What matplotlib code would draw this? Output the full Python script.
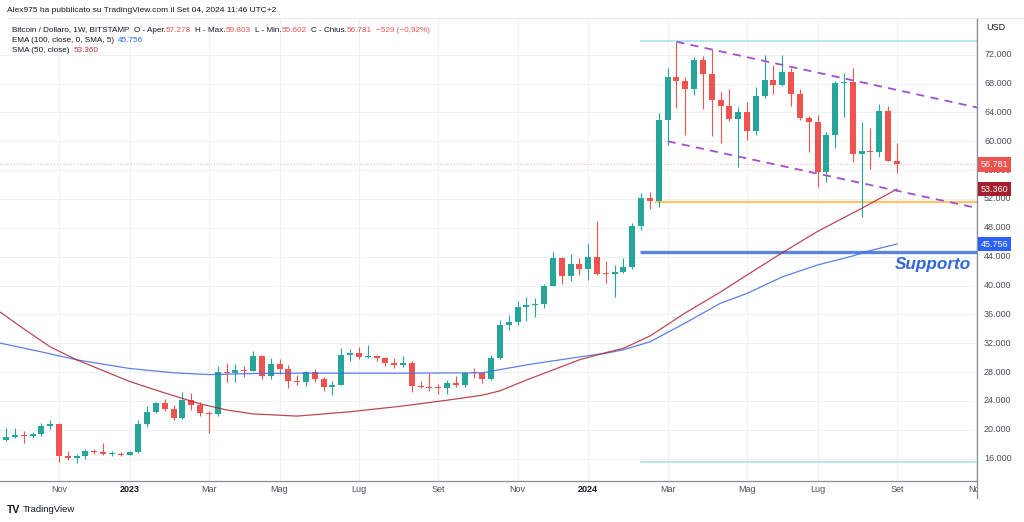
import matplotlib
matplotlib.use('Agg')
import matplotlib.pyplot as plt
from matplotlib.transforms import Bbox, TransformedBbox
from matplotlib.lines import Line2D
import numpy as np

plt.rcParams['font.family'] = ['Liberation Sans', 'DejaVu Sans']

# ---------------- data (prices in thousand USD, weekly bars from 26 Sep 2022) ----------------
weeks = list(range(102))
opens = [18.65, 18.95, 19.3, 19.1, 19.4, 20.5, 20.8, 16.3, 16.15, 16.3,
         17.0, 16.9, 16.6, 16.65, 16.5, 16.9, 20.8, 22.5, 23.7, 22.9,
         21.7, 24.1, 23.4, 22.3, 22.15, 28.0, 27.85, 28.3, 28.2, 30.2,
         27.4, 29.15, 28.4, 26.8, 26.65, 27.95, 27.05, 25.9, 26.2, 30.4,
         30.6, 30.15, 30.25, 30.0, 29.2, 29.0, 29.25, 26.1, 26.0, 25.8,
         25.75, 26.45, 26.2, 27.9, 27.85, 27.0, 29.95, 34.5, 35.0, 37.05,
         37.35, 37.45, 39.95, 43.8, 41.3, 42.95, 42.25, 43.9, 41.6, 41.55,
         41.9, 42.5, 48.3, 52.1, 51.7, 63.0, 68.95, 68.35, 67.2, 71.3,
         69.3, 65.7, 64.9, 63.1, 64.0, 61.4, 66.3, 68.5, 67.8, 69.65,
         66.6, 63.2, 62.7, 55.8, 60.8, 68.1, 68.25, 58.2, 58.7, 58.5,
         64.2, 57.278]
highs = [20.2, 20.2, 19.9, 19.7, 21.0, 21.4, 21.0, 17.1, 16.7, 17.3,
         17.4, 18.2, 17.0, 16.95, 17.1, 21.3, 23.3, 23.9, 24.2, 23.4,
         25.2, 25.1, 23.9, 22.6, 28.8, 29.2, 29.1, 28.8, 30.9, 30.4,
         30.0, 29.8, 29.0, 27.6, 28.2, 28.4, 27.35, 26.8, 31.4, 31.2,
         31.5, 31.8, 30.4, 30.1, 30.0, 30.2, 29.6, 26.8, 27.9, 26.4,
         26.9, 27.4, 28.0, 28.6, 28.0, 30.3, 35.2, 35.9, 37.9, 38.4,
         38.3, 40.2, 44.7, 43.9, 44.4, 43.8, 45.9, 49.0, 43.4, 42.8,
         43.8, 48.6, 52.8, 52.9, 63.9, 70.1, 73.8, 68.9, 71.7, 71.8,
         72.8, 66.9, 67.2, 64.7, 65.5, 67.5, 72.0, 70.6, 71.95, 70.2,
         67.3, 63.55, 63.7, 61.3, 68.4, 69.4, 70.1, 62.7, 61.8, 65.1,
         64.9, 59.803]
lows = [18.5, 18.9, 18.1, 18.9, 19.2, 20.1, 15.6, 15.8, 15.45, 16.0,
        16.7, 16.5, 16.3, 16.3, 16.45, 16.85, 20.4, 22.3, 22.6, 21.4,
        21.5, 22.8, 21.9, 19.6, 21.9, 26.6, 26.6, 27.3, 28.1, 27.1,
        27.0, 27.7, 25.8, 26.2, 26.1, 26.6, 25.4, 24.8, 26.2, 29.5,
        29.8, 29.9, 29.5, 28.9, 28.6, 28.7, 25.3, 25.8, 25.4, 24.9,
        24.9, 26.0, 26.0, 27.2, 26.55, 26.9, 29.8, 33.9, 34.5, 35.1,
        35.7, 36.9, 39.9, 40.2, 40.6, 41.5, 40.8, 41.5, 40.3, 38.45,
        41.8, 42.3, 47.7, 50.6, 50.9, 59.5, 64.6, 60.8, 66.4, 64.5,
        60.7, 59.7, 62.8, 56.5, 60.2, 60.8, 66.0, 66.6, 67.6, 64.9,
        63.0, 58.5, 53.6, 54.3, 59.0, 63.4, 57.1, 49.5, 56.15, 57.8,
        57.2, 55.602]
closes = [18.95, 19.3, 19.1, 19.4, 20.5, 20.8, 16.3, 16.15, 16.3, 17.0,
          16.9, 16.6, 16.65, 16.5, 16.9, 20.8, 22.5, 23.7, 22.9, 21.7,
          24.1, 23.4, 22.3, 22.15, 28.0, 27.85, 28.3, 28.2, 30.2, 27.4,
          29.15, 28.4, 26.8, 26.65, 27.95, 27.05, 25.9, 26.2, 30.4, 30.6,
          30.15, 30.25, 30.0, 29.2, 29.0, 29.25, 26.1, 26.0, 25.8, 25.75,
          26.45, 26.2, 27.9, 27.85, 27.0, 29.95, 34.5, 35.0, 37.05, 37.35,
          37.45, 39.95, 43.8, 41.3, 42.95, 42.25, 43.9, 41.6, 41.55, 41.9,
          42.5, 48.3, 52.1, 51.7, 63.0, 68.95, 68.35, 67.2, 71.3, 69.3,
          65.7, 64.9, 63.1, 64.0, 61.4, 66.3, 68.5, 67.8, 69.65, 66.6,
          63.2, 62.7, 55.8, 60.8, 68.1, 68.25, 58.2, 58.7, 58.5, 64.2,
          57.31, 56.781]

ema_weeks = [-1, 4, 8, 14, 19, 23, 28, 33, 45, 54, 59, 65, 68, 70, 73, 77, 81, 84, 88, 92, 96, 98, 101]
ema_vals = [32.1, 30.8, 29.7, 28.5, 27.9, 27.65, 27.8, 27.85, 27.85, 27.9, 29.0, 30.1, 30.6, 31.1,
            32.2, 34.8, 37.55, 38.9, 41.2, 42.85, 44.1, 44.85, 45.756]
sma_weeks = [-1, 2, 5, 8, 14, 18, 22, 25, 28, 33, 39, 45, 50, 54, 56, 59, 65, 68, 70, 73,
             77, 81, 84, 88, 92, 97, 101]
sma_vals = [36.6, 34.0, 31.5, 29.7, 26.7, 25.1, 23.6, 22.75, 22.2, 21.9, 22.5, 23.3, 24.1,
            24.8, 25.4, 26.9, 29.7, 30.7, 31.3, 33.0, 36.2, 39.1, 41.45, 44.55, 47.5, 50.7, 53.36]

month_pos = [6, 14, 23, 31, 40, 49, 58, 66, 75, 84, 92, 101, 110]
month_labels = ['Nov', '2023', 'Mar', 'Mag', 'Lug', 'Set', 'Nov', '2024', 'Mar', 'Mag', 'Lug', 'Set', 'Nov']
price_ticks = [16, 20, 24, 28, 32, 36, 40, 44, 48, 52, 56, 60, 64, 68, 72]

# drawings
range_top = 73.9
range_bottom = 15.55
range_start = 71.9
orange_level = 51.6
orange_start = 73.6
support_level = 44.65
support_start = 71.9
channel_upper_x = [76, 110.2]
channel_upper_y = [73.8, 64.65]
channel_lower_x = [75, 109.5]
channel_lower_y = [60.0, 50.9]

# ---------------- figure ----------------
W, H = 1024, 522
fig = plt.figure(figsize=(W / 100, H / 100), dpi=100)
fig.patch.set_facecolor('white')
ax = fig.add_axes([0, 41 / H, 977 / W, 463 / H])
ax.set_xlim(-0.69, 110.08)
ax.set_ylim(12.9, 77.09)

UP, DN = '#26a69a', '#ef5350'
TXT = '#131722'
AX_TXT = '#4b4f5a'

ax.set_yticks(price_ticks)
ax.set_xticks(month_pos)
ax.grid(True, color='#f0f1f4', lw=0.8)
ax.set_axisbelow(True)
ax.tick_params(length=0, labelleft=False, labelbottom=False)
for s in ['left', 'top']:
    ax.spines[s].set_visible(False)
for s in ['bottom', 'right']:
    ax.spines[s].set_color('#8c8f99')
    ax.spines[s].set_linewidth(0.9)

# candles
o = np.array(opens); c = np.array(closes); h = np.array(highs); l = np.array(lows)
x = np.array(weeks)
cols = [UP if cc >= oo else DN for oo, cc in zip(o, c)]
ax.vlines(x, l, h, colors=cols, lw=0.8, zorder=3)
body = np.maximum(np.abs(c - o), 0.13)
ax.bar(x, body, bottom=np.minimum(o, c), width=0.68, color=cols, zorder=4, linewidth=0)

# moving averages
ax.plot(ema_weeks, ema_vals, color='#3f6ae8', lw=0.9, alpha=0.85, zorder=5)
ax.plot(sma_weeks, sma_vals, color='#b22833', lw=0.9, alpha=0.85, zorder=5)

# drawings
xr = 110.08
ax.hlines([range_top, range_bottom], range_start, xr, color='#a7e3ea', lw=1.2, zorder=2)
ax.hlines(orange_level, orange_start, xr, color='#ffc46b', lw=1.6, zorder=2)
ax.hlines(support_level, support_start, xr, color='#5b84df', lw=2.4, zorder=2)
ax.plot(channel_upper_x, channel_upper_y, color='#a24fd0', lw=1.3, ls=(0, (4.5, 3.5)), zorder=6)
ax.plot(channel_lower_x, channel_lower_y, color='#a24fd0', lw=1.3, ls=(0, (4.5, 3.5)), zorder=6)
ax.axhline(closes[-1], color='#ef5350', lw=0.8, alpha=0.45, ls=(0, (1, 2)), zorder=2)
ax.text(105.1, 42.85, 'Supporto', color='#2f66e0', fontsize=12.3, fontweight='bold',
        fontstyle='italic', ha='center', va='center', zorder=7)

# price axis labels
ytr = ax.get_yaxis_transform()
for p in price_ticks:
    ax.text(1.0072, p, f'{p:.3f}', transform=ytr, fontsize=6.5, color=AX_TXT,
            ha='left', va='center', clip_on=False)
fig.text(986 / W, 1 - 28 / H, 'USD', fontsize=6.5, color=TXT, ha='left', va='center')


def price_box(val, fc):
    ax.text(1.0042, val, f'{val:.3f}', transform=ytr, fontsize=6.5, color='white',
            ha='left', va='center', clip_on=False, zorder=10,
            bbox=dict(boxstyle='square,pad=0.3', fc=fc, ec='none'))


price_box(closes[-1], '#ef5350')
price_box(sma_vals[-1], '#a51e2d')
price_box(ema_vals[-1], '#2962ff')

# date labels
xtr = ax.get_xaxis_transform()
clipbox = TransformedBbox(Bbox([[0, 0], [977 / W, 1]]), fig.transFigure)
for pos, lab in zip(month_pos, month_labels):
    bold = lab.isdigit()
    t = ax.text(pos, -9 / 463, lab, transform=xtr, fontsize=6.5,
                color=TXT if bold else AX_TXT, fontweight='bold' if bold else 'normal',
                ha='center', va='center', clip_on=True)
    t.set_clip_box(clipbox)

# frame lines
fig.add_artist(Line2D([8 / W, 1], [1 - 18 / H, 1 - 18 / H], transform=fig.transFigure,
                      color='#e6e8ee', lw=0.6))
fig.add_artist(Line2D([977 / W, 977 / W], [1 - 498 / H, 41 / H], transform=fig.transFigure,
                      color='#8c8f99', lw=0.9))

# header
fig.text(7 / W, 1 - 10 / H, 'Alex975 ha pubblicato su TradingView.com il Set 04, 2024 11:46 UTC+2',
         fontsize=6.05, color=TXT, ha='left', va='center')


def seq_text(x0, y0, parts, size=5.85):
    t = fig.text(x0 / W, 1 - y0 / H, parts[0][0], color=parts[0][1], fontsize=size,
                 ha='left', va='bottom')
    for s, col, gap in parts[1:]:
        t = ax.annotate(s, xy=(1, 0), xycoords=t, xytext=(gap, 0), textcoords='offset points',
                        color=col, fontsize=size, ha='left', va='bottom', annotation_clip=False)
    return t


fmt = lambda v: f'{v:.3f}'
chg = (closes[-1] - closes[-2]) * 1000
pct = (closes[-1] - closes[-2]) / closes[-2] * 100
chg_txt = f'\u2212{abs(chg):.0f} (\u2212{abs(pct):.2f}%)'.replace('.', ',')
seq_text(12, 33.5, [('Bitcoin / Dollaro, 1W, BITSTAMP', TXT, 0),
                    ('O - Aper.', TXT, 3), (fmt(opens[-1]), DN, 0),
                    ('H - Max.', TXT, 3), (fmt(highs[-1]), DN, 0),
                    ('L - Min.', TXT, 3), (fmt(lows[-1]), DN, 0),
                    ('C - Chius.', TXT, 3), (fmt(closes[-1]), DN, 0),
                    (chg_txt, DN, 3)])
seq_text(12, 44, [('EMA (100, close, 0, SMA, 5)', TXT, 0), (fmt(ema_vals[-1]), '#2962ff', 3)])
seq_text(12, 54.5, [('SMA (50, close)', TXT, 0), (fmt(sma_vals[-1]), '#c0313e', 3)])

# footer logo
fig.text(7 / W, 1 - 510 / H, 'TV', fontsize=7.5, fontweight='heavy', color=TXT,
         ha='left', va='center')
fig.text(23 / W, 1 - 510 / H, 'TradingView', fontsize=6.8, color=TXT, ha='left', va='center')

fig.savefig('out.png', dpi=100, facecolor='white')
